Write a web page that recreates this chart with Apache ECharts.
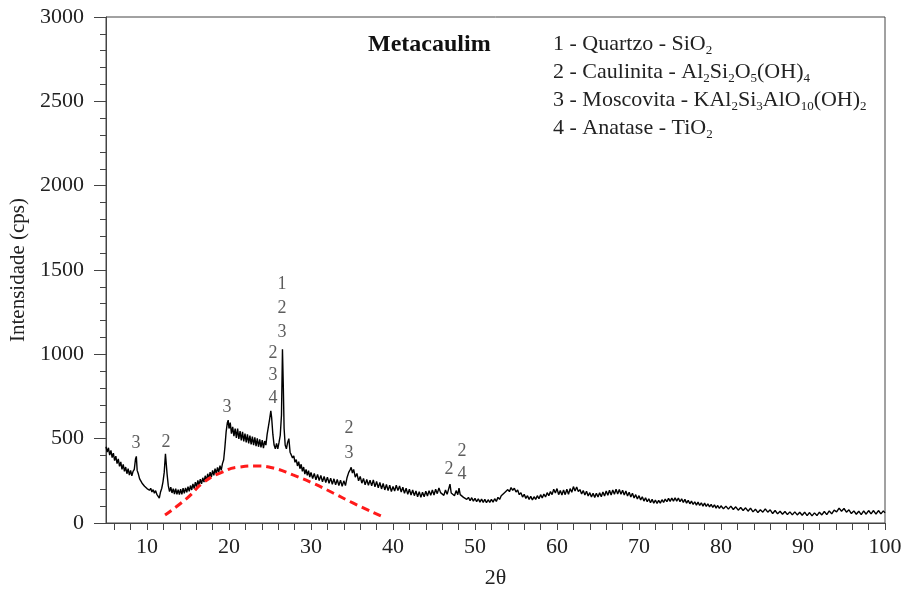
<!DOCTYPE html>
<html>
<head>
<meta charset="utf-8">
<script src="https://cdn.jsdelivr.net/npm/echarts@6/dist/echarts.min.js"></script>
<style>
html,body{margin:0;padding:0;background:#fff;}
#chart{width:904px;height:589px;}
</style>
</head>
<body>
<div id="chart"></div>
<script>
// ---- Data ----
const pattern = [
[5.0,452],[5.15,420],[5.3,446],[5.45,402],[5.6,430],[5.75,388],[5.9,414],[6.05,370],[6.2,396],[6.35,352],[6.5,380],[6.65,336],[6.8,362],[6.95,318],[7.1,348],[7.25,306],[7.4,332],[7.55,292],[7.7,322],[7.85,284],[8.0,312],[8.15,280],[8.3,306],[8.45,318],[8.6,380],[8.7,395],[8.8,312],[8.95,290],[9.1,262],[9.25,258],[9.4,236],[9.55,240],[9.7,218],[9.85,226],[10.0,204],[10.15,214],[10.3,194],[10.45,206],[10.6,184],[10.75,198],[10.9,176],[11.05,192],[11.2,170],[11.35,176],[11.5,148],[11.65,184],[11.8,206],[11.95,244],[12.1,300],[12.25,410],[12.35,405],[12.45,290],[12.6,220],[12.75,186],[12.9,212],[13.05,178],[13.2,204],[13.35,172],[13.5,204],[13.65,170],[13.8,198],[13.95,168],[14.1,200],[14.25,170],[14.4,206],[14.55,176],[14.7,208],[14.85,182],[15.0,216],[15.15,188],[15.3,222],[15.45,196],[15.6,232],[15.75,204],[15.9,242],[16.05,214],[16.2,252],[16.35,224],[16.5,260],[16.65,232],[16.8,268],[16.95,242],[17.1,280],[17.25,248],[17.4,292],[17.55,260],[17.7,302],[17.85,272],[18.0,312],[18.15,282],[18.3,322],[18.45,292],[18.6,330],[18.75,300],[18.9,340],[19.05,312],[19.2,352],[19.35,375],[19.5,450],[19.65,540],[19.8,595],[19.9,610],[20.0,560],[20.15,595],[20.3,530],[20.45,570],[20.6,515],[20.75,560],[20.9,505],[21.05,560],[21.2,498],[21.35,545],[21.5,490],[21.65,540],[21.8,484],[21.95,530],[22.1,478],[22.25,525],[22.4,472],[22.55,518],[22.7,466],[22.85,512],[23.0,462],[23.15,508],[23.3,456],[23.45,502],[23.6,452],[23.75,496],[23.9,448],[24.05,492],[24.2,444],[24.35,486],[24.5,462],[24.65,525],[24.8,570],[24.95,615],[25.1,665],[25.2,625],[25.35,525],[25.5,462],[25.65,440],[25.8,472],[25.95,440],[26.1,478],[26.25,520],[26.4,640],[26.52,1030],[26.62,820],[26.72,560],[26.85,462],[27.0,440],[27.15,478],[27.3,500],[27.45,420],[27.6,424],[27.75,386],[27.9,398],[28.05,360],[28.2,376],[28.35,338],[28.5,364],[28.65,322],[28.8,348],[28.95,306],[29.1,332],[29.25,290],[29.4,318],[29.55,282],[29.7,310],[29.85,272],[30.0,300],[30.2,264],[30.4,294],[30.6,256],[30.8,288],[31.0,252],[31.2,282],[31.4,244],[31.6,276],[31.8,240],[32.0,272],[32.2,236],[32.4,266],[32.6,230],[32.8,262],[33.0,226],[33.2,258],[33.4,222],[33.6,254],[33.8,218],[34.0,250],[34.2,222],[34.4,270],[34.6,300],[34.8,318],[34.9,330],[35.05,296],[35.2,318],[35.4,272],[35.6,294],[35.8,250],[36.0,276],[36.2,236],[36.4,264],[36.6,226],[36.8,258],[37.0,224],[37.2,254],[37.4,220],[37.6,256],[37.8,214],[38.0,246],[38.2,208],[38.4,240],[38.6,202],[38.8,234],[39.0,196],[39.2,228],[39.4,192],[39.6,224],[39.8,186],[40.0,216],[40.2,190],[40.4,224],[40.6,192],[40.8,220],[41.0,184],[41.2,212],[41.4,176],[41.6,206],[41.8,170],[42.0,200],[42.2,166],[42.4,196],[42.6,162],[42.8,190],[43.0,156],[43.2,186],[43.4,152],[43.6,182],[43.8,156],[44.0,188],[44.2,160],[44.4,192],[44.6,164],[44.8,196],[45.0,166],[45.2,200],[45.4,174],[45.6,208],[45.8,180],[46.0,190],[46.2,164],[46.4,196],[46.6,170],[46.8,204],[46.95,230],[47.1,178],[47.3,186],[47.5,162],[47.7,192],[47.9,168],[48.05,206],[48.2,168],[48.4,164],[48.6,152],[48.8,158],[49.0,140],[49.2,152],[49.4,132],[49.6,150],[49.8,130],[50.0,146],[50.2,126],[50.4,144],[50.6,124],[50.8,142],[51.0,122],[51.2,140],[51.4,120],[51.6,138],[51.8,122],[52.0,140],[52.2,124],[52.4,144],[52.6,128],[52.8,152],[53.0,140],[53.2,162],[53.4,160],[53.6,180],[53.8,172],[54.0,198],[54.2,186],[54.4,210],[54.6,194],[54.8,206],[55.0,184],[55.2,196],[55.4,168],[55.6,180],[55.8,154],[56.0,170],[56.2,146],[56.4,162],[56.6,140],[56.8,158],[57.0,136],[57.2,156],[57.4,140],[57.6,162],[57.8,144],[58.0,168],[58.2,148],[58.4,172],[58.6,154],[58.8,180],[59.0,162],[59.2,186],[59.4,168],[59.6,200],[59.8,178],[60.0,204],[60.2,168],[60.4,192],[60.6,166],[60.8,196],[61.0,168],[61.2,200],[61.4,170],[61.6,204],[61.8,182],[62.0,216],[62.2,190],[62.4,214],[62.6,186],[62.8,198],[63.0,172],[63.2,192],[63.4,166],[63.6,188],[63.8,160],[64.0,180],[64.2,154],[64.4,176],[64.6,152],[64.8,176],[65.0,154],[65.2,180],[65.4,156],[65.6,184],[65.8,160],[66.0,190],[66.2,164],[66.4,194],[66.6,166],[66.8,196],[67.0,170],[67.2,200],[67.4,172],[67.6,198],[67.8,170],[68.0,194],[68.2,166],[68.4,190],[68.6,160],[68.8,182],[69.0,154],[69.2,176],[69.4,148],[69.6,168],[69.8,142],[70.0,162],[70.2,136],[70.4,156],[70.6,130],[70.8,150],[71.0,126],[71.2,144],[71.4,120],[71.6,140],[71.8,118],[72.0,136],[72.2,116],[72.4,134],[72.6,118],[72.8,138],[73.0,122],[73.2,142],[73.4,126],[73.6,146],[73.8,128],[74.0,148],[74.2,130],[74.4,150],[74.6,130],[74.8,148],[75.0,126],[75.2,144],[75.4,122],[75.6,140],[75.8,118],[76.0,134],[76.2,114],[76.4,130],[76.6,110],[76.8,126],[77.0,106],[77.2,124],[77.4,104],[77.6,120],[77.8,100],[78.0,118],[78.2,98],[78.4,114],[78.6,96],[78.8,110],[79.0,92],[79.2,108],[79.4,88],[79.6,104],[79.8,86],[80.0,102],[80.3,84],[80.6,100],[80.9,82],[81.2,100],[81.5,80],[81.8,96],[82.1,76],[82.4,92],[82.7,74],[83.0,90],[83.3,70],[83.6,88],[83.9,66],[84.2,82],[84.5,62],[84.8,78],[85.1,64],[85.4,84],[85.7,64],[86.0,78],[86.3,56],[86.6,74],[86.9,54],[87.2,70],[87.5,52],[87.8,68],[88.1,50],[88.4,66],[88.7,48],[89.0,66],[89.3,48],[89.6,64],[89.9,46],[90.2,64],[90.5,44],[90.8,62],[91.1,42],[91.4,60],[91.7,44],[92.0,64],[92.3,48],[92.6,68],[92.9,50],[93.2,72],[93.5,54],[93.8,76],[94.1,66],[94.4,88],[94.7,70],[95.0,86],[95.3,64],[95.6,78],[95.9,56],[96.2,72],[96.5,52],[96.8,70],[97.1,50],[97.4,72],[97.7,52],[98.0,74],[98.3,54],[98.6,74],[98.9,52],[99.2,74],[99.5,54],[99.8,72],[100.0,60]
];

// amorphous halo (red dashed sketch)
const haloX = [12.2, 14.9, 16.8, 18.9, 21.3, 23.4, 25.4, 27.8, 30.2, 32.7, 35.1, 38.8];
const haloY = [47, 148, 237, 296, 332, 338, 326, 285, 237, 178, 119, 36];

// peak identification labels
const peakX = [8.66, 12.32, 19.76, 26.46, 26.46, 26.46, 25.37, 25.37, 25.37, 34.63, 34.63, 46.83, 48.41, 48.41];
const peakY = [474, 480, 688, 1417, 1275, 1132, 1008, 877, 741, 563, 415, 320, 427, 291];
const peakText = ['3', '2', '3', '1', '2', '3', '2', '3', '4', '2', '3', '2', '2', '4'];

const xLabelValues = [10, 20, 30, 40, 50, 60, 70, 80, 90, 100];
const xTickValues = [6,8,10,12,14,16,18,20,22,24,26,28,30,32,34,36,38,40,42,44,46,48,50,52,54,56,58,60,62,64,66,68,70,72,74,76,78,80,82,84,86,88,90,92,94,96,98,100];

const chartTitle = 'Metacaulim';
const legendLines = [
  '1 - Quartzo - SiO{s|2}',
  '2 - Caulinita - Al{s|2}Si{s|2}O{s|5}(OH){s|4}',
  '3 - Moscovita - KAl{s|2}Si{s|3}AlO{s|10}(OH){s|2}',
  '4 - Anatase - TiO{s|2}'
];

// ---- Chart ----
const FONT = '"Liberation Serif", "Times New Roman", serif';
const chart = echarts.init(document.getElementById('chart'));

const haloData = haloX.map((x, i) => [x, haloY[i]]);
const peakData = peakX.map((x, i) => ({ value: [x, peakY[i]], label: { formatter: peakText[i] } }));

const graphics = [{
  type: 'text', left: 368, top: 33,
  style: { text: chartTitle, font: 'bold 24px ' + FONT, fill: '#111' }
}];
legendLines.forEach((t, i) => {
  graphics.push({
    type: 'text', left: 553, top: 31 + i * 28,
    style: {
      text: t, fill: '#222', fontFamily: FONT, fontSize: 22, lineHeight: 26,
      rich: { s: { fontFamily: FONT, fontSize: 13, lineHeight: 12, verticalAlign: 'bottom', fill: '#222' } }
    }
  });
});

chart.setOption({
  animation: false,
  backgroundColor: '#fff',
  grid: { left: 106, right: 19, top: 17, bottom: 66, show: true, borderColor: '#444', borderWidth: 1, containLabel: false, outerBoundsMode: 'none' },
  xAxis: {
    type: 'value', min: 5, max: 100,
    name: '2θ', nameLocation: 'middle', nameGap: 44,
    nameTextStyle: { fontFamily: FONT, fontSize: 22, color: '#222' },
    axisLine: { lineStyle: { color: '#444', width: 1 } },
    axisTick: { show: true, inside: false, length: 7, customValues: xTickValues, lineStyle: { color: '#444' } },
    axisLabel: { customValues: xLabelValues, fontFamily: FONT, fontSize: 22, color: '#222', margin: 13 },
    splitLine: { show: false }
  },
  yAxis: {
    type: 'value', min: 0, max: 3000, interval: 500,
    name: 'Intensidade (cps)', nameLocation: 'middle', nameGap: 72, nameRotate: 90,
    nameTextStyle: { fontFamily: FONT, fontSize: 21, color: '#222' },
    axisLine: { show: true, lineStyle: { color: '#444', width: 1 } },
    axisTick: { show: true, inside: false, length: 12, lineStyle: { color: '#444' } },
    minorTick: { show: true, splitNumber: 5, length: 6, lineStyle: { color: '#444' } },
    axisLabel: { fontFamily: FONT, fontSize: 22, color: '#222', margin: 22, formatter: v => String(v) },
    splitLine: { show: false }
  },
  graphic: graphics,
  series: [
    {
      type: 'line', data: pattern, showSymbol: false, smooth: false,
      lineStyle: { color: '#000', width: 1.4 }, z: 3
    },
    {
      type: 'line', data: haloData, showSymbol: false, smooth: true,
      lineStyle: { color: '#ff1a1a', width: 3, type: [8, 5] }, z: 4
    },
    {
      type: 'scatter', data: peakData, symbolSize: 0,
      label: { show: true, position: 'inside', fontFamily: FONT, fontSize: 18, color: '#333' }, z: 5
    }
  ]
});
</script>
</body>
</html>
